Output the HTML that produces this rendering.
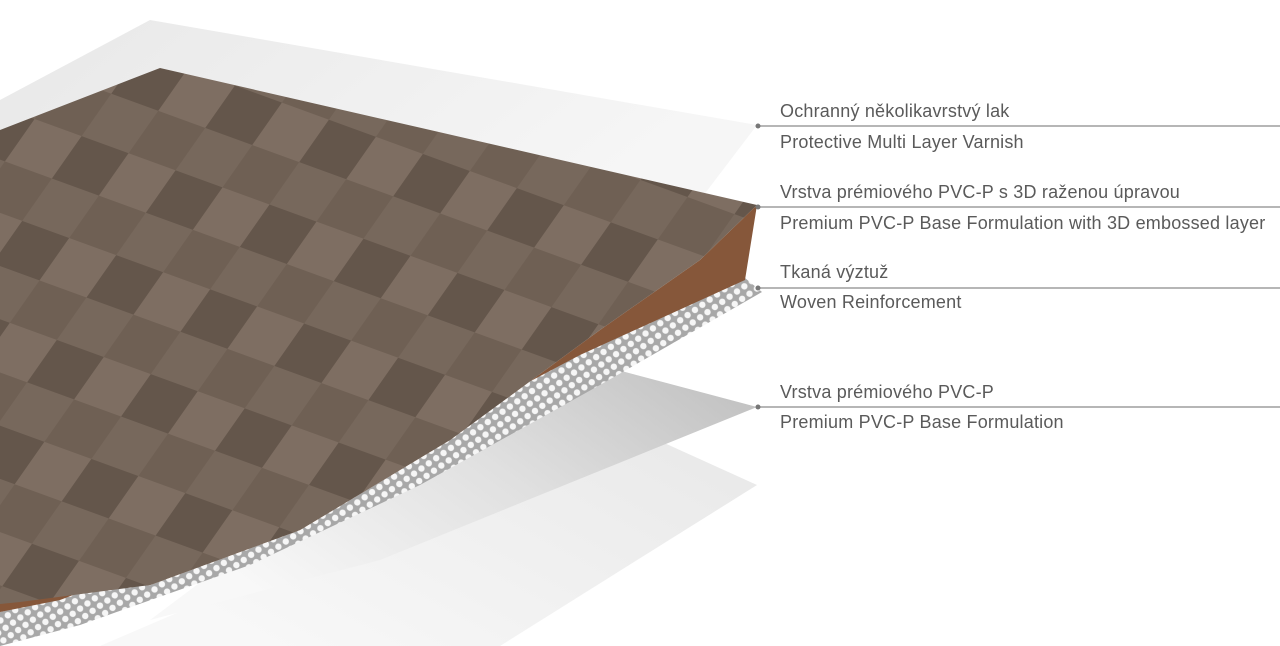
<!DOCTYPE html>
<html><head><meta charset="utf-8">
<style>
html,body{margin:0;padding:0;background:#fff;}
.wrap{position:relative;width:1280px;height:646px;overflow:hidden;background:#fff;}
.lbl{position:absolute;left:780px;font-family:"Liberation Sans",sans-serif;font-size:18px;color:#5a5a5a;white-space:nowrap;letter-spacing:0.2px;}
</style></head><body>
<div class="wrap">
<svg width="1280" height="646" viewBox="0 0 1280 646" style="position:absolute;left:0;top:0">
<defs>
<linearGradient id="var" x1="0" y1="0" x2="1" y2="0.3">
<stop offset="0" stop-color="#e8e8e8"/><stop offset="1" stop-color="#f6f6f6"/></linearGradient>
<linearGradient id="g1" x1="1" y1="0" x2="0" y2="0.6">
<stop offset="0" stop-color="#bdbdbd"/><stop offset="0.5" stop-color="#e0e0e0"/><stop offset="1" stop-color="#f8f8f8"/></linearGradient>
<linearGradient id="g2" x1="1" y1="0" x2="0" y2="0.6">
<stop offset="0" stop-color="#e8e8e8"/><stop offset="1" stop-color="#f8f8f8"/></linearGradient>
<pattern id="tiles" width="100" height="100" patternUnits="userSpaceOnUse" patternTransform="rotate(20) skewX(-15)">
<rect width="100" height="100" fill="#6f6054"/>
<rect width="50" height="50" fill="#7e6e62"/>
<rect x="50" y="50" width="50" height="50" fill="#77685c"/>
<rect x="50" y="0" width="50" height="50" fill="#64564b"/>
</pattern>
<pattern id="dots" width="9" height="9" patternUnits="userSpaceOnUse" patternTransform="rotate(-35)">
<rect width="9" height="9" fill="#a8a8a8"/>
<circle cx="4.5" cy="4.5" r="3.2" fill="#f6f6f6"/>
</pattern>
</defs>
<polygon points="757,485 640,432 300,560 100,646 500,646" fill="url(#g2)"/>
<polygon points="757,407 580,360 350,470 150,620 380,560" fill="url(#g1)"/>
<polygon points="0,100 150,20 757,125 700,200 0,135" fill="url(#var)"/>
<polygon points="745,278 762,292 600,385 420,485 250,565 80,625 0,646 0,612 60,598 230,532 400,448 580,352" fill="url(#dots)"/>
<polygon points="757,205 745,280 580,355 400,450 230,535 60,600 0,612 0,600 150,585 300,530 450,440 600,330 700,260" fill="#86573a"/>
<polygon points="0,130 160,68 757,205 700,260 600,330 450,440 300,530 150,585 20,602 0,604" fill="url(#tiles)"/>
<g stroke="#8a8a8a" stroke-width="1.3">
<line x1="757" y1="126" x2="1280" y2="126"/>
<line x1="757" y1="207" x2="1280" y2="207"/>
<line x1="757" y1="288" x2="1280" y2="288"/>
<line x1="757" y1="407" x2="1280" y2="407"/>
</g>
<g fill="#777">
<circle cx="758" cy="126" r="2.5"/><circle cx="758" cy="207" r="2.5"/>
<circle cx="758" cy="288" r="2.5"/><circle cx="758" cy="407" r="2.5"/>
</g>
</svg>
<div class="lbl" style="top:101px">Ochranný několikavrstvý lak</div>
<div class="lbl" style="top:132px">Protective Multi Layer Varnish</div>
<div class="lbl" style="top:182px">Vrstva prémiového PVC-P s 3D raženou úpravou</div>
<div class="lbl" style="top:213px">Premium PVC-P Base Formulation with 3D embossed layer</div>
<div class="lbl" style="top:262px">Tkaná výztuž</div>
<div class="lbl" style="top:292px">Woven Reinforcement</div>
<div class="lbl" style="top:382px">Vrstva prémiového PVC-P</div>
<div class="lbl" style="top:412px">Premium PVC-P Base Formulation</div>
</div>
</body></html>
